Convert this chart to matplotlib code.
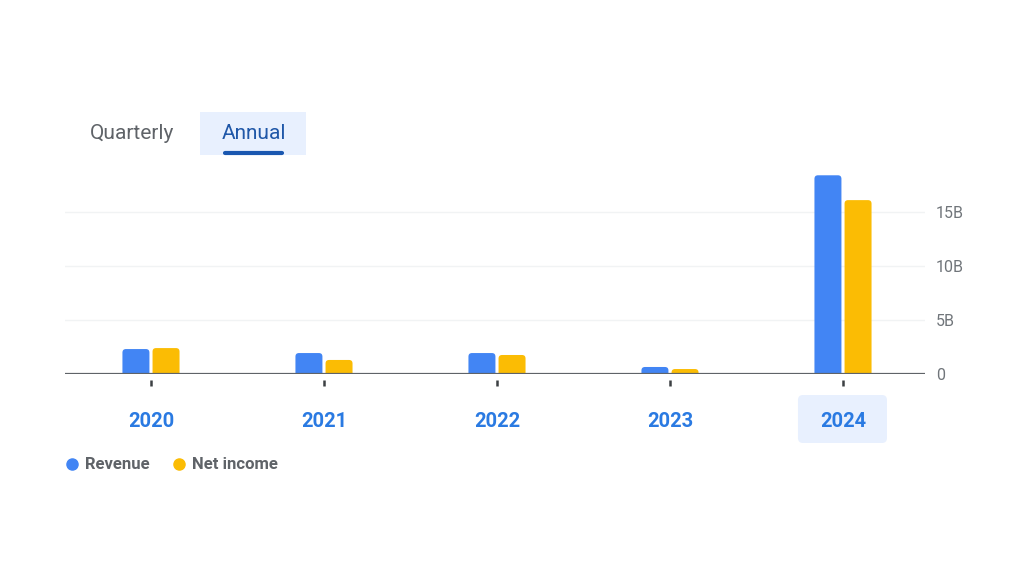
import matplotlib
matplotlib.use("Agg")
import matplotlib.pyplot as plt
from matplotlib.patches import FancyBboxPatch
from matplotlib.lines import Line2D

plt.rcParams['font.family'] = ['Roboto', 'DejaVu Sans']

years = ["2020", "2021", "2022", "2023", "2024"]
revenue = [2.31, 1.94, 1.94, 0.65, 18.4]      # billions
net_income = [2.40, 1.30, 1.76, 0.46, 16.1]   # billions
ytick_vals = [0, 5, 10, 15]
ytick_labels = ["0", "5B", "10B", "15B"]
series_names = ["Revenue", "Net income"]
tabs = ["Quarterly", "Annual"]
highlight_year = "2024"

BLUE = "#4285F4"
YELLOW = "#FBBC04"
GRAY = "#5f6368"
LINK = "#1a73e8"
DARKBLUE = "#1a57b0"
LIGHT = "#e8f0fe"

W, H = 1024, 585
fig = plt.figure(figsize=(W / 100, H / 100), dpi=100)

# decoration layer in pixel coordinates
deco = fig.add_axes([0, 0, 1, 1], zorder=0)
deco.set_xlim(0, W)
deco.set_ylim(H, 0)
deco.axis("off")

# main chart axes
left, right, zero_y, top_y = 65, 925, 374, 168.8
ax = fig.add_axes([left / W, 1 - zero_y / H, (right - left) / W, (zero_y - top_y) / H], zorder=1)
ax.patch.set_alpha(0)
ax.set_ylim(0, 19)
ax.set_xlim(-0.497, 4.474)

xs = list(range(len(years)))
bw = 0.156
off = 0.087
px_x = 173.0
px_y = (zero_y - top_y) / 19.0
r = 3.5 / px_x
aspect = (3.5 / px_y) / r
for i, (rv, ni) in enumerate(zip(revenue, net_income)):
    for val, dx, col in ((rv, -off, BLUE), (ni, off, YELLOW)):
        p = FancyBboxPatch((xs[i] + dx - bw / 2, -0.5), bw, val + 0.5,
                           boxstyle=f"round,pad=0,rounding_size={r}",
                           mutation_aspect=aspect, fc=col, ec="none", zorder=3)
        ax.add_patch(p)

ax.set_yticks(ytick_vals)
ax.set_yticklabels(ytick_labels)
ax.yaxis.tick_right()
ax.tick_params(axis="y", length=0, pad=8, labelsize=11.5, labelcolor="#70757a")
ax.grid(axis="y", color="#f1f3f4", linewidth=1, zorder=0)
ax.set_axisbelow(True)
ax.axhline(0, color=GRAY, linewidth=1.6, zorder=4)
for s in ax.spines.values():
    s.set_visible(False)

ax.set_xticks(xs)
ax.set_xticklabels(years)
ax.tick_params(axis="x", length=0, pad=27.5, labelsize=14.5, labelcolor="#2a7ae2")
for t in ax.get_xticklabels():
    t.set_fontweight("bold")
# small tick marks below axis
ax.plot(xs, [-0.85] * len(xs), linestyle="none", marker="|", markersize=4,
        markeredgewidth=1.8, color="#3c4043", clip_on=False, zorder=4)

# highlight box behind 2024 label
hi = years.index(highlight_year)
cx = left + (xs[hi] - (-0.497)) * px_x
deco.add_patch(FancyBboxPatch((cx - 45, 395), 89, 48,
                              boxstyle="round,pad=0,rounding_size=5",
                              fc=LIGHT, ec="none"))

# tabs
deco.add_patch(FancyBboxPatch((200, 112), 106, 43,
                              boxstyle="square,pad=0", fc=LIGHT, ec="none"))
deco.text(132.5, 133.5, tabs[0], ha="center", va="center", fontsize=15, color=GRAY)
deco.text(253.5, 133.5, tabs[1], ha="center", va="center", fontsize=15, color="#1f57a8")
deco.plot([225, 282], [153, 153], color=DARKBLUE, linewidth=3, solid_capstyle="round")

# legend
handles = [Line2D([], [], linestyle="none", marker="o", markersize=8, color=BLUE),
           Line2D([], [], linestyle="none", marker="o", markersize=8, color=YELLOW)]
leg = fig.legend(handles, series_names, loc="center left",
                 bbox_to_anchor=(52 / W, 1 - 465 / H), ncol=2, frameon=False,
                 handlelength=0.6, handletextpad=0.45, columnspacing=1.5,
                 prop={"size": 12, "weight": "bold"})
for t in leg.get_texts():
    t.set_color(GRAY)

fig.savefig("out.png", dpi=100)
